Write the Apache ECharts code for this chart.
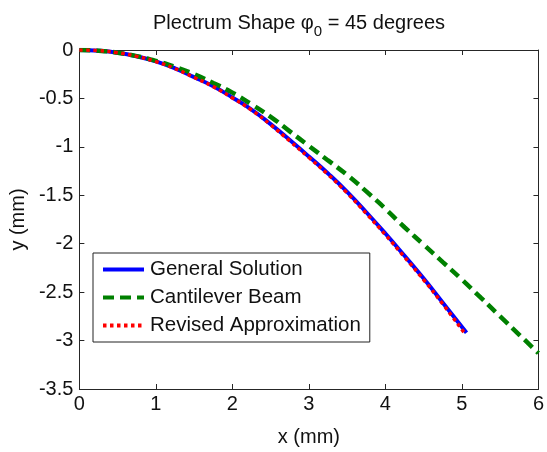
<!DOCTYPE html>
<html>
<head>
<meta charset="utf-8">
<script src="https://cdn.jsdelivr.net/npm/echarts@6/dist/echarts.min.js"></script>
<style>
html,body{margin:0;padding:0;background:#fff;}
#chart{width:547px;height:452px;}
</style>
</head>
<body>
<div id="chart"></div>
<script>
// ---- data ----
const generalX = [0, 0.25, 0.5, 0.75, 1.0, 1.25, 1.5, 1.75, 2.0, 2.25, 2.5, 2.75, 3.0, 3.25, 3.5, 3.75, 4.0, 4.25, 4.5, 4.75, 5.06];
const generalY = [0, -0.007, -0.028, -0.065, -0.118, -0.19, -0.28, -0.375, -0.49, -0.615, -0.765, -0.93, -1.10, -1.275, -1.465, -1.675, -1.895, -2.125, -2.36, -2.61, -2.92];

const cantileverX = [0, 0.25, 0.5, 0.75, 1.0, 1.25, 1.5, 1.75, 2.0, 2.25, 2.5, 2.75, 3.0, 3.25, 3.5, 3.75, 4.0, 4.25, 4.5, 4.75, 5.0, 5.25, 5.5, 5.75, 6.0];
const cantileverY = [0, -0.007, -0.028, -0.063, -0.112, -0.175, -0.25, -0.34, -0.44, -0.56, -0.69, -0.84, -0.99, -1.14, -1.29, -1.46, -1.64, -1.83, -2.01, -2.19, -2.37, -2.56, -2.75, -2.94, -3.13];

const revisedX = [0, 0.25, 0.5, 0.75, 1.0, 1.25, 1.5, 1.75, 2.0, 2.25, 2.5, 2.75, 3.0, 3.25, 3.5, 3.75, 4.0, 4.25, 4.5, 4.75, 5.04];
const revisedY = [0, -0.007, -0.028, -0.066, -0.12, -0.192, -0.283, -0.378, -0.495, -0.62, -0.772, -0.94, -1.11, -1.285, -1.477, -1.688, -1.908, -2.138, -2.373, -2.623, -2.93];

const xTicks = {min: 0, max: 6, interval: 1};
const yTicks = {min: -3.5, max: 0, interval: 0.5};

const seriesNames = ['General Solution', 'Cantilever Beam', 'Revised Approximation'];

function pairs(xs, ys) { return xs.map((x, i) => [x, ys[i]]); }

const FONT = 'Liberation Sans, Arial, sans-serif';
const AXC = '#262626';

const chart = echarts.init(document.getElementById('chart'), null, {renderer: 'canvas'});

function mkAxis(extra) {
  return Object.assign({
    type: 'value',
    axisLine: {show: true, onZero: false, lineStyle: {color: AXC, width: 1}},
    axisTick: {show: true, inside: true, length: 5, lineStyle: {color: AXC, width: 1}},
    splitLine: {show: false}
  }, extra);
}

chart.setOption({
  animation: false,
  backgroundColor: '#fff',
  title: {
    text: 'Plectrum Shape {g|φ}{s|0} = 45 degrees',
    left: 148,
    top: 8,
    textStyle: {
      fontFamily: FONT, fontSize: 20, fontWeight: 'normal', color: '#111',
      rich: {
        g: {fontFamily: FONT, fontSize: 20, color: '#111'},
        s: {fontFamily: FONT, fontSize: 15, color: '#111', verticalAlign: 'bottom', padding: [0, 0, -6, 0]}
      }
    }
  },
  grid: {left: 78, right: 6, top: 50, bottom: 54, containLabel: false},
  legend: {
    orient: 'vertical',
    left: 93,
    top: 253,
    padding: [6, 9, 6, 8],
    itemGap: 7,
    itemWidth: 41,
    itemHeight: 21,
    backgroundColor: '#fff',
    borderColor: '#222',
    borderWidth: 1,
    borderRadius: 0,
    itemStyle: {opacity: 0},
    lineStyle: {width: 4},
    textStyle: {fontFamily: FONT, fontSize: 20.5, color: '#111', padding: [0, 0, 0, 1]},
    data: seriesNames
  },
  xAxis: [
    mkAxis({
      position: 'bottom',
      min: xTicks.min, max: xTicks.max, interval: xTicks.interval,
      name: 'x (mm)', nameLocation: 'middle', nameGap: 38,
      nameTextStyle: {fontFamily: FONT, fontSize: 20, color: '#111'},
      axisLabel: {fontFamily: FONT, fontSize: 20, color: '#111', margin: 5}
    }),
    mkAxis({
      position: 'top',
      min: xTicks.min, max: xTicks.max, interval: xTicks.interval,
      axisLabel: {show: false}
    })
  ],
  yAxis: [
    mkAxis({
      position: 'left',
      min: yTicks.min, max: yTicks.max, interval: yTicks.interval,
      name: 'y (mm)', nameLocation: 'middle', nameGap: 50,
      nameTextStyle: {fontFamily: FONT, fontSize: 20, color: '#111'},
      axisLabel: {fontFamily: FONT, fontSize: 20, color: '#111', margin: 6}
    }),
    mkAxis({
      position: 'right',
      min: yTicks.min, max: yTicks.max, interval: yTicks.interval,
      axisLabel: {show: false}
    })
  ],
  series: [
    {
      name: seriesNames[0], type: 'line', smooth: true, showSymbol: false, symbol: 'none',
      xAxisIndex: 0, yAxisIndex: 0,
      lineStyle: {color: '#0000ff', width: 4, type: 'solid'},
      itemStyle: {color: '#0000ff'},
      data: pairs(generalX, generalY)
    },
    {
      name: seriesNames[1], type: 'line', smooth: true, showSymbol: false, symbol: 'none',
      xAxisIndex: 0, yAxisIndex: 0,
      lineStyle: {color: '#008000', width: 4.5, type: [11, 6]},
      itemStyle: {color: '#008000'},
      data: pairs(cantileverX, cantileverY)
    },
    {
      name: seriesNames[2], type: 'line', smooth: true, showSymbol: false, symbol: 'none',
      xAxisIndex: 0, yAxisIndex: 0,
      lineStyle: {color: '#ff0000', width: 3.5, type: [3.5, 3.5]},
      itemStyle: {color: '#ff0000'},
      data: pairs(revisedX, revisedY)
    }
  ]
});
</script>
</body>
</html>
